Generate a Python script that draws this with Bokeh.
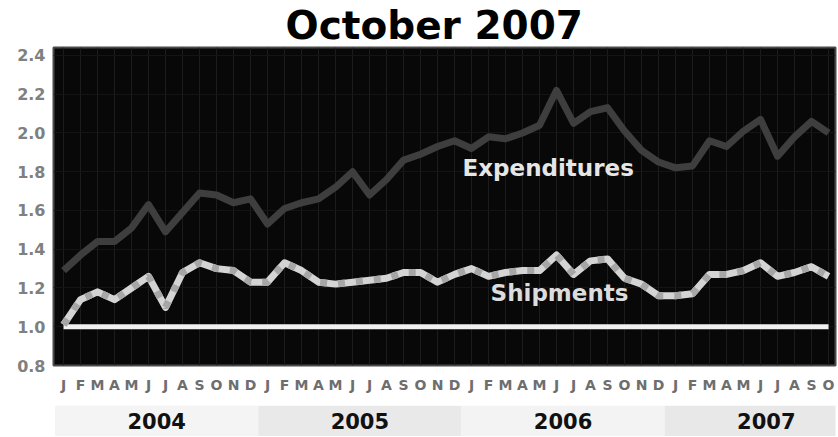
from bokeh.plotting import figure
from bokeh.models import FixedTicker, Label, Range1d, Title
from bokeh.layouts import column
from bokeh.embed import file_html
from bokeh.resources import INLINE
from bokeh.core.properties import value

title_text = "October 2007"

month_labels = ["J", "F", "M", "A", "M", "J", "J", "A", "S", "O", "N", "D",
                "J", "F", "M", "A", "M", "J", "J", "A", "S", "O", "N", "D",
                "J", "F", "M", "A", "M", "J", "J", "A", "S", "O", "N", "D",
                "J", "F", "M", "A", "M", "J", "J", "A", "S", "O"]

expenditures = [1.29, 1.37, 1.44, 1.44, 1.51, 1.63, 1.49, 1.59, 1.69, 1.68, 1.64, 1.66,
                1.53, 1.61, 1.64, 1.66, 1.72, 1.80, 1.68, 1.76, 1.86, 1.89, 1.93, 1.96,
                1.92, 1.98, 1.97, 2.00, 2.04, 2.22, 2.05, 2.11, 2.13, 2.01, 1.91, 1.85,
                1.82, 1.83, 1.96, 1.93, 2.01, 2.07, 1.88, 1.98, 2.06, 2.00]

shipments = [1.01, 1.14, 1.18, 1.14, 1.20, 1.26, 1.10, 1.28, 1.33, 1.30, 1.29, 1.23,
             1.23, 1.33, 1.29, 1.23, 1.22, 1.23, 1.24, 1.25, 1.28, 1.28, 1.23, 1.27,
             1.30, 1.26, 1.28, 1.29, 1.29, 1.37, 1.27, 1.34, 1.35, 1.25, 1.22, 1.16,
             1.16, 1.17, 1.27, 1.27, 1.29, 1.33, 1.26, 1.28, 1.31, 1.26]

baseline_value = 1.0

y_ticks = [0.8, 1.0, 1.2, 1.4, 1.6, 1.8, 2.0, 2.2, 2.4]
y_tick_labels = ["0.8", "1.0", "1.2", "1.4", "1.6", "1.8", "2.0", "2.2", "2.4"]

years = ["2004", "2005", "2006", "2007"]
year_first_month = [0, 12, 24, 36]

series_names = ["Expenditures", "Shipments"]

idx = list(range(len(month_labels)))

X0, X1 = -0.59, 45.41
p = figure(width=838, height=405, title=None,
           x_range=Range1d(X0, X1), y_range=Range1d(0.8, 2.441),
           output_backend="svg", toolbar_location=None,
           min_border_left=53, min_border_right=3, min_border_top=46, min_border_bottom=40,
           background_fill_color="#080808", border_fill_color="white")

p.outline_line_color = "#4a4a4a"
p.outline_line_width = 2

p.add_layout(Title(text=title_text, align="left", text_font="DejaVu Sans",
                   text_font_style="bold", text_font_size="39px", text_color="#000000",
                   standoff=0, offset=232), "above")

# axes
p.xaxis.ticker = FixedTicker(ticks=idx)
p.xaxis.major_label_overrides = {i: m for i, m in zip(idx, month_labels)}
p.xaxis.axis_line_color = None
p.xaxis.major_tick_line_color = None
p.xaxis.minor_tick_line_color = None
p.xaxis.major_tick_out = 0
p.xaxis.major_label_standoff = 11
p.xaxis.major_label_text_font = "DejaVu Sans"
p.xaxis.major_label_text_font_style = "bold"
p.xaxis.major_label_text_font_size = "14px"
p.xaxis.major_label_text_color = "#6e6e6e"

p.yaxis.ticker = FixedTicker(ticks=y_ticks)
p.yaxis.major_label_overrides = {t: l for t, l in zip(y_ticks, y_tick_labels)}
p.yaxis.axis_line_color = None
p.yaxis.major_tick_line_color = None
p.yaxis.minor_tick_line_color = None
p.yaxis.major_tick_out = 0
p.yaxis.major_label_standoff = 8
p.yaxis.major_label_text_font = "DejaVu Sans"
p.yaxis.major_label_text_font_style = "bold"
p.yaxis.major_label_text_font_size = "16px"
p.yaxis.major_label_text_color = "#808080"

p.xgrid.grid_line_color = "#1c1c1c"
p.xgrid.grid_line_width = 1
p.ygrid.grid_line_color = "#141414"
p.ygrid.grid_line_width = 1

# baseline
p.line(idx, [baseline_value] * len(idx), line_color="#f0f0f0", line_width=5)

# expenditures
p.line(idx, expenditures, line_color="#3e3e3e", line_width=7, line_join="round")

# shipments (light dashed-looking band)
p.line(idx, shipments, line_color="#d4d4d4", line_width=7, line_join="round")
p.line(idx, shipments, line_color="#a6a6a6", line_width=7, line_dash="7 11")

# series labels
p.add_layout(Label(x=23.47, y=1.818, text=series_names[0], text_align="left",
                   text_baseline="middle", text_font="DejaVu Sans", text_font_style="bold",
                   text_font_size="23px", text_color="#e6e6e6"))
p.add_layout(Label(x=25.12, y=1.175, text=series_names[1], text_align="left",
                   text_baseline="middle", text_font="DejaVu Sans", text_font_style="bold",
                   text_font_size="23px", text_color="#dcdcdc"))

# year bands
b = figure(width=838, height=31, title=None,
           x_range=Range1d(X0, X0 + 785 / 17.0), y_range=Range1d(0, 1),
           x_axis_type=None, y_axis_type=None,
           output_backend="svg", toolbar_location=None,
           min_border_left=53, min_border_right=0, min_border_top=0, min_border_bottom=0,
           background_fill_color="white", border_fill_color="white")
b.outline_line_color = None
b.grid.visible = False

band_left = [m - 0.5 for m in year_first_month]
band_right = [m + 11.5 for m in year_first_month]
band_center = [m + 5.5 for m in year_first_month]
band_colors = ["#f4f4f4", "#e9e9e9", "#f3f3f3", "#e8e8e8"]
b.quad(left=band_left, right=band_right, top=1, bottom=0, fill_color=band_colors, line_color=None)
b.text(x=band_center, y=[0.5] * len(years), text=years, text_font=value("DejaVu Sans"),
       text_font_style="bold", text_font_size="21px", text_align="center",
       text_baseline="middle", text_color="#111111")

layout = column(p, b, spacing=0)
open("out.html", "w").write(file_html(layout, INLINE))
